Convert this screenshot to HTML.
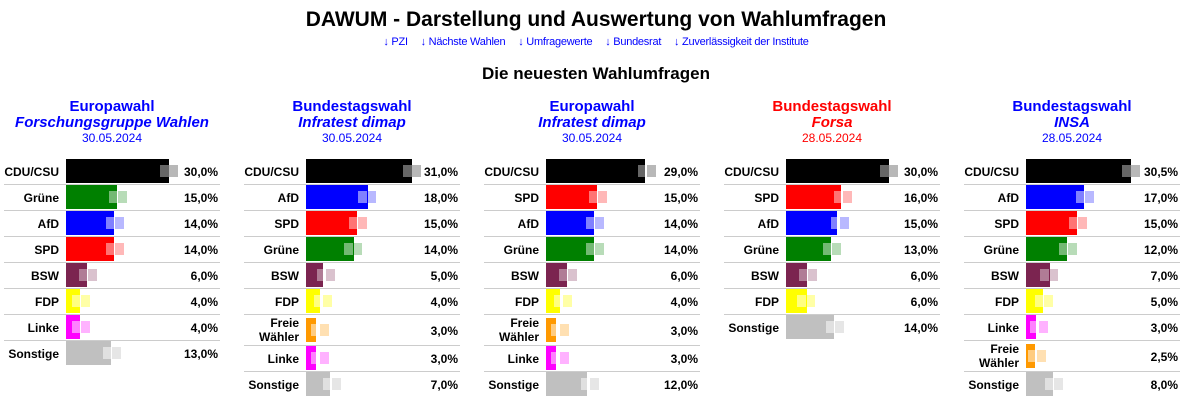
<!DOCTYPE html>
<html><head><meta charset="utf-8"><style>
*{margin:0;padding:0;box-sizing:border-box}
body{width:1192px;height:406px;background:#fff;font-family:"Liberation Sans",Arial,sans-serif;position:relative;overflow:hidden;color:#000}
h1{position:absolute;top:8px;left:0;width:1192px;text-align:center;font-size:21px;font-weight:bold}
.links{position:absolute;top:36px;left:0;width:1192px;text-align:center;font-size:11px;color:#00f;letter-spacing:-0.25px}
.links span{margin:0 5px}
h2{position:absolute;top:64px;left:0;width:1192px;text-align:center;font-size:17px;font-weight:bold}
.p{position:absolute;top:0;width:222px;height:406px}
.hd{position:absolute;top:98px;left:0;width:224px;text-align:center;color:#00f}
.hd .a{font-size:15px;font-weight:bold;line-height:17px}
.hd .b{font-size:15px;font-weight:bold;font-style:italic;line-height:16px}
.hd .c{font-size:12px;line-height:14px}
.red{color:#f00}
.rows{position:absolute;top:159px;left:4px;width:216px}
.r{position:relative;height:26px;border-bottom:1px solid #ccc;font-size:12px;font-weight:bold}
.r.t{height:31px}
.r:last-child{border-bottom:none}
.l{position:absolute;left:0;width:55px;text-align:right;top:6px;line-height:14px}
.t .l{top:1px;line-height:14px}
.v{position:absolute;right:2px;top:6px}
.t .v{top:9px}
.bar{position:absolute;left:62px;top:0px;height:24px}
.t .bar{top:3px}
.o{position:absolute;top:6px;height:12px;width:18px}
.t .o{top:9px}
.cdu .bar{background:#000}.cdu .o{background:linear-gradient(90deg,rgba(255,255,255,.4) 50%,rgba(0,0,0,.28) 50%)}
.gr .bar{background:#008000}.gr .o{background:linear-gradient(90deg,rgba(255,255,255,.45) 50%,rgba(0,128,0,.28) 50%)}
.afd .bar{background:#00f}.afd .o{background:linear-gradient(90deg,rgba(255,255,255,.5) 50%,rgba(0,0,255,.28) 50%)}
.spd .bar{background:#f00}.spd .o{background:linear-gradient(90deg,rgba(255,255,255,.45) 50%,rgba(255,0,0,.28) 50%)}
.bsw .bar{background:#7b2450}.bsw .o{background:linear-gradient(90deg,rgba(255,255,255,.4) 50%,rgba(123,36,80,.28) 50%)}
.fdp .bar{background:#ff0}.fdp .o{background:linear-gradient(90deg,rgba(255,255,255,.5) 50%,rgba(255,255,0,.35) 50%)}
.lin .bar{background:#f0f}.lin .o{background:linear-gradient(90deg,rgba(255,255,255,.5) 50%,rgba(255,0,255,.3) 50%)}
.fw .bar{background:#f90}.fw .o{background:linear-gradient(90deg,rgba(255,255,255,.5) 50%,rgba(255,153,0,.3) 50%)}
.son .bar{background:#c0c0c0}.son .o{background:linear-gradient(90deg,rgba(255,255,255,.5) 50%,rgba(192,192,192,.4) 50%)}
</style></head><body>
<h1>DAWUM - Darstellung und Auswertung von Wahlumfragen</h1>
<div class="links"><span>↓ PZI</span> <span>↓ Nächste Wahlen</span> <span>↓ Umfragewerte</span> <span>↓ Bundesrat</span> <span>↓ Zuverlässigkeit der Institute</span></div>
<h2>Die neuesten Wahlumfragen</h2>

<div class="p" style="left:0">
<div class="hd"><div class="a">Europawahl</div><div class="b">Forschungsgruppe Wahlen</div><div class="c">30.05.2024</div></div>
<div class="rows">
<div class="r cdu"><div class="l">CDU/CSU</div><div class="bar" style="width:103px"></div><div class="o" style="left:156px"></div><div class="v">30,0%</div></div>
<div class="r gr"><div class="l">Grüne</div><div class="bar" style="width:51px"></div><div class="o" style="left:105px"></div><div class="v">15,0%</div></div>
<div class="r afd"><div class="l">AfD</div><div class="bar" style="width:48px"></div><div class="o" style="left:102px"></div><div class="v">14,0%</div></div>
<div class="r spd"><div class="l">SPD</div><div class="bar" style="width:48px"></div><div class="o" style="left:102px"></div><div class="v">14,0%</div></div>
<div class="r bsw"><div class="l">BSW</div><div class="bar" style="width:21px"></div><div class="o" style="left:75px"></div><div class="v">6,0%</div></div>
<div class="r fdp"><div class="l">FDP</div><div class="bar" style="width:14px"></div><div class="o" style="left:68px"></div><div class="v">4,0%</div></div>
<div class="r lin"><div class="l">Linke</div><div class="bar" style="width:14px"></div><div class="o" style="left:68px"></div><div class="v">4,0%</div></div>
<div class="r son"><div class="l">Sonstige</div><div class="bar" style="width:45px"></div><div class="o" style="left:99px"></div><div class="v">13,0%</div></div>
</div></div>

<div class="p" style="left:240px">
<div class="hd"><div class="a">Bundestagswahl</div><div class="b">Infratest dimap</div><div class="c">30.05.2024</div></div>
<div class="rows">
<div class="r cdu"><div class="l">CDU/CSU</div><div class="bar" style="width:106px"></div><div class="o" style="left:159px"></div><div class="v">31,0%</div></div>
<div class="r afd"><div class="l">AfD</div><div class="bar" style="width:62px"></div><div class="o" style="left:114px"></div><div class="v">18,0%</div></div>
<div class="r spd"><div class="l">SPD</div><div class="bar" style="width:51px"></div><div class="o" style="left:105px"></div><div class="v">15,0%</div></div>
<div class="r gr"><div class="l">Grüne</div><div class="bar" style="width:48px"></div><div class="o" style="left:100px"></div><div class="v">14,0%</div></div>
<div class="r bsw"><div class="l">BSW</div><div class="bar" style="width:17px"></div><div class="o" style="left:73px"></div><div class="v">5,0%</div></div>
<div class="r fdp"><div class="l">FDP</div><div class="bar" style="width:14px"></div><div class="o" style="left:70px"></div><div class="v">4,0%</div></div>
<div class="r t fw"><div class="l">Freie<br>Wähler</div><div class="bar" style="width:10px"></div><div class="o" style="left:67px"></div><div class="v">3,0%</div></div>
<div class="r lin"><div class="l">Linke</div><div class="bar" style="width:10px"></div><div class="o" style="left:67px"></div><div class="v">3,0%</div></div>
<div class="r son"><div class="l">Sonstige</div><div class="bar" style="width:24px"></div><div class="o" style="left:79px"></div><div class="v">7,0%</div></div>
</div></div>

<div class="p" style="left:480px">
<div class="hd"><div class="a">Europawahl</div><div class="b">Infratest dimap</div><div class="c">30.05.2024</div></div>
<div class="rows">
<div class="r cdu"><div class="l">CDU/CSU</div><div class="bar" style="width:99px"></div><div class="o" style="left:154px"></div><div class="v">29,0%</div></div>
<div class="r spd"><div class="l">SPD</div><div class="bar" style="width:51px"></div><div class="o" style="left:105px"></div><div class="v">15,0%</div></div>
<div class="r afd"><div class="l">AfD</div><div class="bar" style="width:48px"></div><div class="o" style="left:102px"></div><div class="v">14,0%</div></div>
<div class="r gr"><div class="l">Grüne</div><div class="bar" style="width:48px"></div><div class="o" style="left:102px"></div><div class="v">14,0%</div></div>
<div class="r bsw"><div class="l">BSW</div><div class="bar" style="width:21px"></div><div class="o" style="left:75px"></div><div class="v">6,0%</div></div>
<div class="r fdp"><div class="l">FDP</div><div class="bar" style="width:14px"></div><div class="o" style="left:70px"></div><div class="v">4,0%</div></div>
<div class="r t fw"><div class="l">Freie<br>Wähler</div><div class="bar" style="width:10px"></div><div class="o" style="left:67px"></div><div class="v">3,0%</div></div>
<div class="r lin"><div class="l">Linke</div><div class="bar" style="width:10px"></div><div class="o" style="left:67px"></div><div class="v">3,0%</div></div>
<div class="r son"><div class="l">Sonstige</div><div class="bar" style="width:41px"></div><div class="o" style="left:97px"></div><div class="v">12,0%</div></div>
</div></div>

<div class="p" style="left:720px">
<div class="hd red"><div class="a">Bundestagswahl</div><div class="b">Forsa</div><div class="c">28.05.2024</div></div>
<div class="rows">
<div class="r cdu"><div class="l">CDU/CSU</div><div class="bar" style="width:103px"></div><div class="o" style="left:156px"></div><div class="v">30,0%</div></div>
<div class="r spd"><div class="l">SPD</div><div class="bar" style="width:55px"></div><div class="o" style="left:110px"></div><div class="v">16,0%</div></div>
<div class="r afd"><div class="l">AfD</div><div class="bar" style="width:51px"></div><div class="o" style="left:107px"></div><div class="v">15,0%</div></div>
<div class="r gr"><div class="l">Grüne</div><div class="bar" style="width:45px"></div><div class="o" style="left:99px"></div><div class="v">13,0%</div></div>
<div class="r bsw"><div class="l">BSW</div><div class="bar" style="width:21px"></div><div class="o" style="left:75px"></div><div class="v">6,0%</div></div>
<div class="r fdp"><div class="l">FDP</div><div class="bar" style="width:21px"></div><div class="o" style="left:73px"></div><div class="v">6,0%</div></div>
<div class="r son"><div class="l">Sonstige</div><div class="bar" style="width:48px"></div><div class="o" style="left:102px"></div><div class="v">14,0%</div></div>
</div></div>

<div class="p" style="left:960px">
<div class="hd"><div class="a">Bundestagswahl</div><div class="b">INSA</div><div class="c">28.05.2024</div></div>
<div class="rows">
<div class="r cdu"><div class="l">CDU/CSU</div><div class="bar" style="width:105px"></div><div class="o" style="left:158px"></div><div class="v">30,5%</div></div>
<div class="r afd"><div class="l">AfD</div><div class="bar" style="width:58px"></div><div class="o" style="left:112px"></div><div class="v">17,0%</div></div>
<div class="r spd"><div class="l">SPD</div><div class="bar" style="width:51px"></div><div class="o" style="left:105px"></div><div class="v">15,0%</div></div>
<div class="r gr"><div class="l">Grüne</div><div class="bar" style="width:41px"></div><div class="o" style="left:95px"></div><div class="v">12,0%</div></div>
<div class="r bsw"><div class="l">BSW</div><div class="bar" style="width:24px"></div><div class="o" style="left:76px"></div><div class="v">7,0%</div></div>
<div class="r fdp"><div class="l">FDP</div><div class="bar" style="width:17px"></div><div class="o" style="left:71px"></div><div class="v">5,0%</div></div>
<div class="r lin"><div class="l">Linke</div><div class="bar" style="width:10px"></div><div class="o" style="left:66px"></div><div class="v">3,0%</div></div>
<div class="r t fw"><div class="l">Freie<br>Wähler</div><div class="bar" style="width:9px"></div><div class="o" style="left:64px"></div><div class="v">2,5%</div></div>
<div class="r son"><div class="l">Sonstige</div><div class="bar" style="width:27px"></div><div class="o" style="left:81px"></div><div class="v">8,0%</div></div>
</div></div>
</body></html>
